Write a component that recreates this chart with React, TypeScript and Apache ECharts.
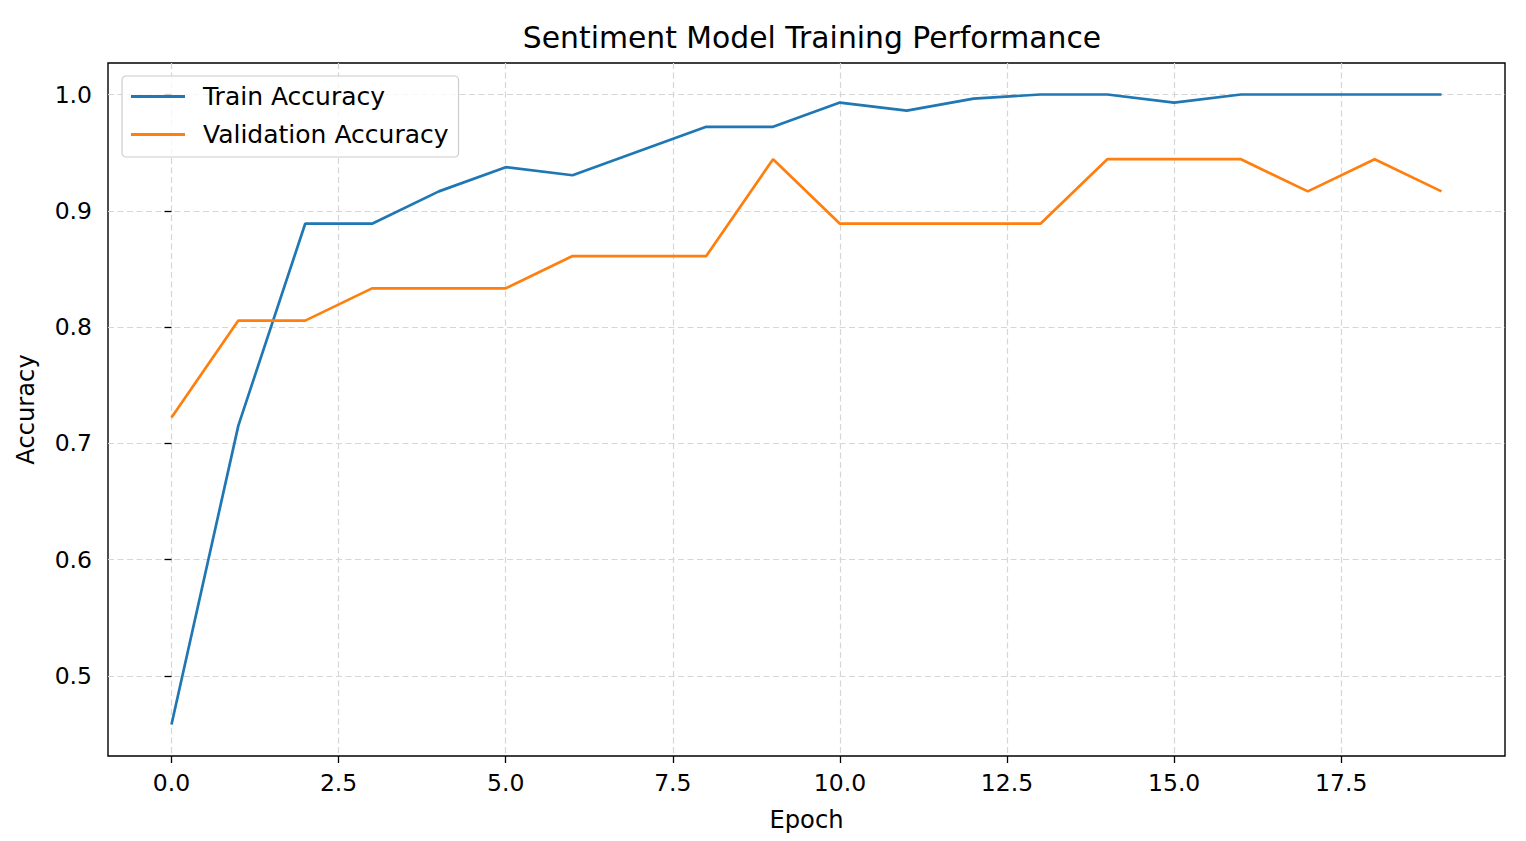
import React, { useEffect, useRef } from 'react';
import * as echarts from 'echarts';

const epochs = [0, 1, 2, 3, 4, 5, 6, 7, 8, 9, 10, 11, 12, 13, 14, 15, 16, 17, 18, 19];
const trainAccuracy = [
    0.4583, 0.7153, 0.8889, 0.8889, 0.9167, 0.9375, 0.9306, 0.9514, 0.9722, 0.9722,
    0.9931, 0.9861, 0.9965, 1.0, 1.0, 0.9931, 1.0, 1.0, 1.0, 1.0,
];
const valAccuracy = [
    0.7222, 0.8056, 0.8056, 0.8333, 0.8333, 0.8333, 0.8611, 0.8611, 0.8611, 0.9444,
    0.8889, 0.8889, 0.8889, 0.8889, 0.9444, 0.9444, 0.9444, 0.9167, 0.9444, 0.9167,
];
const xTicks = [0, 2.5, 5, 7.5, 10, 12.5, 15, 17.5];
const yTicks = [0.5, 0.6, 0.7, 0.8, 0.9, 1.0];

const FONT = 'DejaVu Sans';

const App: React.FC = () => {
    const chartRef = useRef<HTMLDivElement>(null);

    useEffect(() => {
        document.body.style.margin = '0';
        if (chartRef.current) {
            const chart = echarts.init(chartRef.current, null, { renderer: 'svg' });

            const gridLine = {
                show: true,
                lineStyle: { color: '#d6d6d6', type: [6, 3.5] as number[], width: 1.2 },
            };

            const option = {
                animation: false,
                backgroundColor: '#fff',
                title: {
                    text: 'Sentiment Model Training Performance',
                    left: 807,
                    textAlign: 'center',
                    top: 17,
                    textStyle: { fontFamily: FONT, fontSize: 29.8, fontWeight: 'normal', color: '#000' },
                },
                legend: {
                    orient: 'vertical',
                    left: 122,
                    top: 76,
                    padding: [8, 10, 10, 9],
                    itemGap: 13,
                    itemWidth: 54,
                    itemHeight: 3,
                    icon: 'rect',
                    backgroundColor: 'rgba(255,255,255,0.8)',
                    borderColor: '#cccccc',
                    borderWidth: 1.2,
                    borderRadius: 4,
                    textStyle: {
                        fontFamily: FONT,
                        fontSize: 25,
                        color: '#000',
                        padding: [0, 0, 0, 13],
                    },
                },
                grid: {
                    left: 108,
                    top: 63,
                    right: 21,
                    bottom: 85,
                    show: true,
                    borderColor: '#000',
                    borderWidth: 1.4,
                    containLabel: false,
                },
                xAxis: {
                    type: 'value',
                    min: -0.95,
                    max: 19.95,
                    name: 'Epoch',
                    nameLocation: 'middle',
                    nameGap: 52,
                    nameTextStyle: { fontFamily: FONT, fontSize: 24.2, color: '#000' },
                    axisLine: { show: false },
                    axisTick: {
                        show: true,
                        length: 7,
                        customValues: xTicks,
                        lineStyle: { color: '#000', width: 1.3 },
                    },
                    axisLabel: {
                        customValues: xTicks,
                        margin: 15,
                        fontFamily: FONT,
                        fontSize: 23.5,
                        color: '#000',
                        formatter: (v: number) => v.toFixed(1),
                    },
                    splitLine: gridLine,
                },
                yAxis: {
                    type: 'value',
                    min: 0.4312,
                    max: 1.0271,
                    name: 'Accuracy',
                    nameLocation: 'middle',
                    nameGap: 70,
                    nameTextStyle: { fontFamily: FONT, fontSize: 24.2, color: '#000' },
                    axisLine: { show: false },
                    axisTick: {
                        show: true,
                        length: 7,
                        customValues: yTicks,
                        lineStyle: { color: '#000', width: 1.3 },
                    },
                    axisLabel: {
                        customValues: yTicks,
                        margin: 16,
                        fontFamily: FONT,
                        fontSize: 23.5,
                        color: '#000',
                        formatter: (v: number) => v.toFixed(1),
                    },
                    splitLine: gridLine,
                },
                series: [
                    {
                        name: 'Train Accuracy',
                        type: 'line',
                        data: epochs.map((e, i) => [e, trainAccuracy[i]]),
                        symbol: 'none',
                        color: '#1f77b4',
                        lineStyle: { width: 2.7 },
                    },
                    {
                        name: 'Validation Accuracy',
                        type: 'line',
                        data: epochs.map((e, i) => [e, valAccuracy[i]]),
                        symbol: 'none',
                        color: '#ff7f0e',
                        lineStyle: { width: 2.7 },
                    },
                ],
            };

            chart.setOption(option);

            return () => {
                chart.dispose();
            };
        }
    }, []);

    return <div ref={chartRef} style={{ width: '1526px', height: '841px' }} />;
};

export default App;
